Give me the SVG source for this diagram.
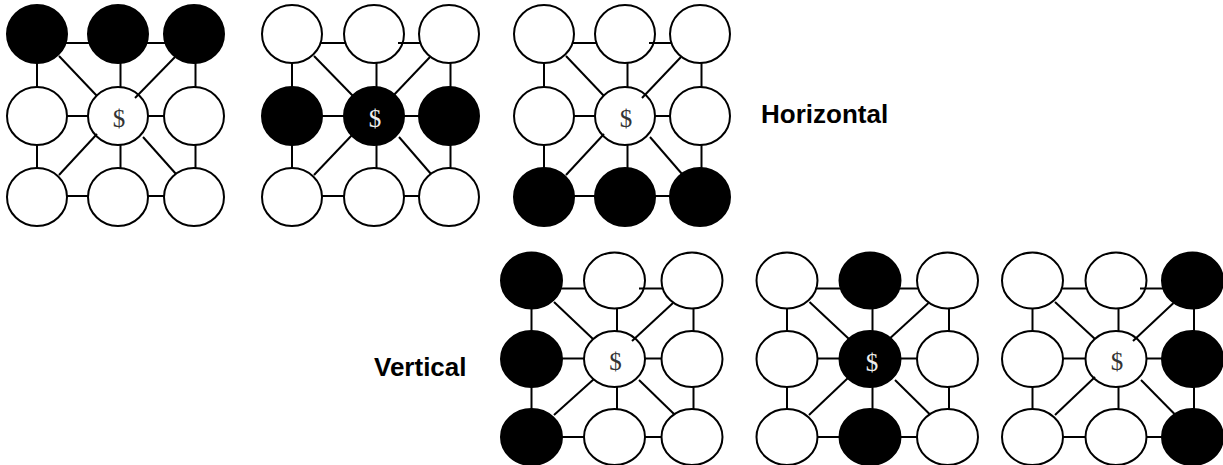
<svg xmlns="http://www.w3.org/2000/svg" width="1223" height="465" viewBox="0 0 1223 465">
<style>
.w{fill:#fff;stroke:#000;stroke-width:2}
.b{fill:#000;stroke:#000;stroke-width:2}
.e line{stroke:#000;stroke-width:2}
.d{font-family:"Liberation Serif",serif;font-size:25px;text-anchor:middle;fill:#333}
.dw{font-family:"Liberation Serif",serif;font-size:25px;text-anchor:middle;fill:#eee}
.lbl{font-family:"Liberation Sans",Arial,sans-serif;font-size:26px;font-weight:bold;fill:#000}
</style>
<rect width="1223" height="465" fill="#fff"/>
<!-- Grid 1 -->
<g id="grid1">
<g id="g1n00"><ellipse class="b" cx="37" cy="34" rx="30" ry="29"/></g>
<g id="g1n01"><ellipse class="b" cx="118" cy="34" rx="30" ry="29"/></g>
<g id="g1n02"><ellipse class="b" cx="194" cy="34" rx="30" ry="29"/></g>
<g id="g1n10"><ellipse class="w" cx="37" cy="116" rx="30" ry="29"/></g>
<g id="g1n11"><ellipse class="w" cx="118" cy="116" rx="30" ry="29"/><text class="d" x="119" y="127">$</text></g>
<g id="g1n12"><ellipse class="w" cx="194" cy="116" rx="30" ry="29"/></g>
<g id="g1n20"><ellipse class="w" cx="37" cy="197" rx="30" ry="29"/></g>
<g id="g1n21"><ellipse class="w" cx="118" cy="197" rx="30" ry="29"/></g>
<g id="g1n22"><ellipse class="w" cx="194" cy="197" rx="30" ry="29"/></g>
</g>
<!-- Grid 2 -->
<g id="grid2">
<g id="g2n00"><ellipse class="w" cx="292" cy="34" rx="30" ry="29"/></g>
<g id="g2n01"><ellipse class="w" cx="374" cy="34" rx="30" ry="29"/></g>
<g id="g2n02"><ellipse class="w" cx="449" cy="34" rx="30" ry="29"/></g>
<g id="g2n10"><ellipse class="b" cx="292" cy="116" rx="30" ry="29"/></g>
<g id="g2n11"><ellipse class="b" cx="374" cy="116" rx="30" ry="29"/><text class="dw" x="375" y="127">$</text></g>
<g id="g2n12"><ellipse class="b" cx="449" cy="116" rx="30" ry="29"/></g>
<g id="g2n20"><ellipse class="w" cx="292" cy="197" rx="30" ry="29"/></g>
<g id="g2n21"><ellipse class="w" cx="374" cy="197" rx="30" ry="29"/></g>
<g id="g2n22"><ellipse class="w" cx="449" cy="197" rx="30" ry="29"/></g>
</g>
<!-- Grid 3 -->
<g id="grid3">
<g id="g3n00"><ellipse class="w" cx="544" cy="34" rx="30" ry="29"/></g>
<g id="g3n01"><ellipse class="w" cx="625" cy="34" rx="30" ry="29"/></g>
<g id="g3n02"><ellipse class="w" cx="700" cy="34" rx="30" ry="29"/></g>
<g id="g3n10"><ellipse class="w" cx="544" cy="116" rx="30" ry="29"/></g>
<g id="g3n11"><ellipse class="w" cx="625" cy="116" rx="30" ry="29"/><text class="d" x="626" y="127">$</text></g>
<g id="g3n12"><ellipse class="w" cx="700" cy="116" rx="30" ry="29"/></g>
<g id="g3n20"><ellipse class="b" cx="544" cy="197" rx="30" ry="29"/></g>
<g id="g3n21"><ellipse class="b" cx="625" cy="197" rx="30" ry="29"/></g>
<g id="g3n22"><ellipse class="b" cx="700" cy="197" rx="30" ry="29"/></g>
</g>
<!-- Grid 4 -->
<g id="grid4">
<g id="g4n00"><ellipse class="b" cx="531.5" cy="280.5" rx="30.5" ry="28"/></g>
<g id="g4n01"><ellipse class="w" cx="614.5" cy="280.5" rx="30.5" ry="28"/></g>
<g id="g4n02"><ellipse class="w" cx="692" cy="280.5" rx="30.5" ry="28"/></g>
<g id="g4n10"><ellipse class="b" cx="531.5" cy="359" rx="30.5" ry="28"/></g>
<g id="g4n11"><ellipse class="w" cx="614.5" cy="359" rx="30.5" ry="28"/><text class="d" x="615.5" y="370">$</text></g>
<g id="g4n12"><ellipse class="w" cx="692" cy="359" rx="30.5" ry="28"/></g>
<g id="g4n20"><ellipse class="b" cx="531.5" cy="437" rx="30.5" ry="28"/></g>
<g id="g4n21"><ellipse class="w" cx="614.5" cy="437" rx="30.5" ry="28"/></g>
<g id="g4n22"><ellipse class="w" cx="692" cy="437" rx="30.5" ry="28"/></g>
</g>
<!-- Grid 5 -->
<g id="grid5">
<g id="g5n00"><ellipse class="w" cx="787" cy="280.5" rx="30.5" ry="28"/></g>
<g id="g5n01"><ellipse class="b" cx="870" cy="280.5" rx="30.5" ry="28"/></g>
<g id="g5n02"><ellipse class="w" cx="947.5" cy="280.5" rx="30.5" ry="28"/></g>
<g id="g5n10"><ellipse class="w" cx="787" cy="359" rx="30.5" ry="28"/></g>
<g id="g5n11"><ellipse class="b" cx="870" cy="359" rx="30.5" ry="28"/><text class="dw" x="872" y="371">$</text></g>
<g id="g5n12"><ellipse class="w" cx="947.5" cy="359" rx="30.5" ry="28"/></g>
<g id="g5n20"><ellipse class="w" cx="787" cy="437" rx="30.5" ry="28"/></g>
<g id="g5n21"><ellipse class="b" cx="870" cy="437" rx="30.5" ry="28"/></g>
<g id="g5n22"><ellipse class="w" cx="947.5" cy="437" rx="30.5" ry="28"/></g>
</g>
<!-- Grid 6 -->
<g id="grid6">
<g id="g6n00"><ellipse class="w" cx="1032.5" cy="280.5" rx="30.5" ry="28"/></g>
<g id="g6n01"><ellipse class="w" cx="1116" cy="280.5" rx="30.5" ry="28"/></g>
<g id="g6n02"><ellipse class="b" cx="1192.5" cy="280.5" rx="30.5" ry="28"/></g>
<g id="g6n10"><ellipse class="w" cx="1032.5" cy="359" rx="30.5" ry="28"/></g>
<g id="g6n11"><ellipse class="w" cx="1116" cy="359" rx="30.5" ry="28"/><text class="d" x="1117" y="370">$</text></g>
<g id="g6n12"><ellipse class="b" cx="1192.5" cy="359" rx="30.5" ry="28"/></g>
<g id="g6n20"><ellipse class="w" cx="1032.5" cy="437" rx="30.5" ry="28"/></g>
<g id="g6n21"><ellipse class="w" cx="1116" cy="437" rx="30.5" ry="28"/></g>
<g id="g6n22"><ellipse class="b" cx="1192.5" cy="437" rx="30.5" ry="28"/></g>
</g>
<g id="connectors" class="e">
<!-- grid1 -->
<line x1="65" y1="43" x2="90" y2="43"/><line x1="142" y1="43" x2="166" y2="43"/>
<line x1="67" y1="116" x2="88" y2="116"/><line x1="148" y1="116" x2="164" y2="116"/>
<line x1="67" y1="196" x2="88" y2="196"/><line x1="148" y1="196" x2="164" y2="196"/>
<line x1="37" y1="63" x2="37" y2="87"/><line x1="37" y1="145" x2="37" y2="168"/>
<line x1="120.5" y1="63" x2="120.5" y2="87"/><line x1="120.5" y1="145" x2="120.5" y2="168"/>
<line x1="195.5" y1="63" x2="195.5" y2="87"/><line x1="195.5" y1="145" x2="195.5" y2="168"/>
<line x1="59" y1="56" x2="97" y2="96"/><line x1="175" y1="57" x2="135" y2="98"/>
<line x1="97" y1="134" x2="59" y2="175"/><line x1="143" y1="137" x2="176" y2="174"/>
<!-- grid2 -->
<line x1="320" y1="43" x2="346" y2="43"/><line x1="398" y1="43" x2="421" y2="43"/>
<line x1="322" y1="116" x2="344" y2="116"/><line x1="404" y1="116" x2="419" y2="116"/>
<line x1="322" y1="196" x2="344" y2="196"/><line x1="404" y1="196" x2="419" y2="196"/>
<line x1="292" y1="63" x2="292" y2="87"/><line x1="292" y1="145" x2="292" y2="168"/>
<line x1="376.5" y1="63" x2="376.5" y2="87"/><line x1="376.5" y1="145" x2="376.5" y2="168"/>
<line x1="450.5" y1="63" x2="450.5" y2="87"/><line x1="450.5" y1="145" x2="450.5" y2="168"/>
<line x1="314" y1="56" x2="353" y2="96"/><line x1="430" y1="57" x2="391" y2="98"/>
<line x1="353" y1="134" x2="314" y2="175"/><line x1="399" y1="137" x2="431" y2="174"/>
<!-- grid3 -->
<line x1="572" y1="43" x2="597" y2="43"/><line x1="649" y1="43" x2="672" y2="43"/>
<line x1="574" y1="116" x2="595" y2="116"/><line x1="655" y1="116" x2="670" y2="116"/>
<line x1="574" y1="196" x2="595" y2="196"/><line x1="655" y1="196" x2="670" y2="196"/>
<line x1="544" y1="63" x2="544" y2="87"/><line x1="544" y1="145" x2="544" y2="168"/>
<line x1="627.5" y1="63" x2="627.5" y2="87"/><line x1="627.5" y1="145" x2="627.5" y2="168"/>
<line x1="701.5" y1="63" x2="701.5" y2="87"/><line x1="701.5" y1="145" x2="701.5" y2="168"/>
<line x1="566" y1="56" x2="604" y2="96"/><line x1="681" y1="57" x2="642" y2="98"/>
<line x1="604" y1="134" x2="566" y2="175"/><line x1="650" y1="137" x2="682" y2="174"/>
<!-- grid4 -->
<line x1="560" y1="288.5" x2="586" y2="288.5"/><line x1="639" y1="288.5" x2="663" y2="288.5"/>
<line x1="562" y1="358.5" x2="584" y2="358.5"/><line x1="645" y1="358.5" x2="662" y2="358.5"/>
<line x1="562" y1="437" x2="584" y2="437"/><line x1="645" y1="437" x2="662" y2="437"/>
<line x1="531.5" y1="308.5" x2="531.5" y2="331"/><line x1="531.5" y1="387" x2="531.5" y2="409"/>
<line x1="617" y1="308.5" x2="617" y2="331"/><line x1="617" y1="387" x2="617" y2="409"/>
<line x1="693.5" y1="308.5" x2="693.5" y2="331"/><line x1="693.5" y1="387" x2="693.5" y2="409"/>
<line x1="554" y1="302" x2="593" y2="339"/><line x1="673" y1="303" x2="632" y2="341"/>
<line x1="594" y1="379" x2="554" y2="415"/><line x1="639" y1="380" x2="674" y2="414"/>
<!-- grid5 -->
<line x1="815.5" y1="288.5" x2="841.5" y2="288.5"/><line x1="894" y1="288.5" x2="918.5" y2="288.5"/>
<line x1="817.5" y1="358.5" x2="839.5" y2="358.5"/><line x1="900.5" y1="358.5" x2="917.5" y2="358.5"/>
<line x1="817.5" y1="437" x2="839.5" y2="437"/><line x1="900.5" y1="437" x2="917.5" y2="437"/>
<line x1="787" y1="308.5" x2="787" y2="331"/><line x1="787" y1="387" x2="787" y2="409"/>
<line x1="872.5" y1="308.5" x2="872.5" y2="331"/><line x1="872.5" y1="387" x2="872.5" y2="409"/>
<line x1="949" y1="308.5" x2="949" y2="331"/><line x1="949" y1="387" x2="949" y2="409"/>
<line x1="809.5" y1="302" x2="849" y2="339"/><line x1="928.5" y1="303" x2="887" y2="341"/>
<line x1="849" y1="377" x2="809" y2="415"/><line x1="895" y1="380" x2="929.5" y2="414"/>
<!-- grid6 -->
<line x1="1061" y1="288.5" x2="1087.5" y2="288.5"/><line x1="1140" y1="288.5" x2="1164" y2="288.5"/>
<line x1="1063" y1="358.5" x2="1085.5" y2="358.5"/><line x1="1146.5" y1="358.5" x2="1162.5" y2="358.5"/>
<line x1="1063" y1="437" x2="1085.5" y2="437"/><line x1="1146.5" y1="437" x2="1162.5" y2="437"/>
<line x1="1032.5" y1="308.5" x2="1032.5" y2="331"/><line x1="1032.5" y1="387" x2="1032.5" y2="409"/>
<line x1="1118.5" y1="308.5" x2="1118.5" y2="331"/><line x1="1118.5" y1="387" x2="1118.5" y2="409"/>
<line x1="1194" y1="308.5" x2="1194" y2="331"/><line x1="1194" y1="387" x2="1194" y2="409"/>
<line x1="1055" y1="302" x2="1095" y2="339"/><line x1="1173.5" y1="303" x2="1133" y2="341"/>
<line x1="1095" y1="377" x2="1055" y2="415"/><line x1="1141" y1="380" x2="1174.5" y2="414"/>
</g>
<g id="labels">
<text class="lbl" x="761" y="123">Horizontal</text>
<text class="lbl" x="374" y="376">Vertical</text>
</g>
</svg>
